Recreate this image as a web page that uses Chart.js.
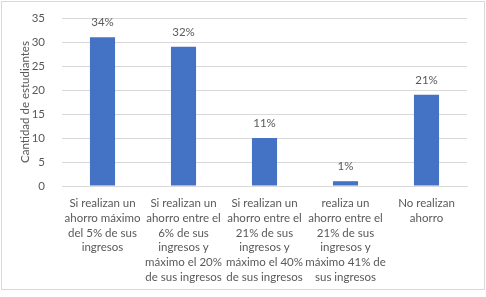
<!DOCTYPE html>
<html>
<head>
<meta charset="utf-8">
<script src="https://cdn.jsdelivr.net/npm/chart.js@4.4.0/dist/chart.umd.min.js"></script>
<style>
  html, body { margin: 0; padding: 0; background: #fff; }
  #box {
    position: absolute; left: 1px; top: 1px;
    width: 482px; height: 287px;
    border: 1px solid #d9d9d9;
  }
</style>
</head>
<body>
<div id="box"><canvas id="myChart"></canvas></div>
<script>
const categories = [
  ["Si realizan un", "ahorro máximo", "del 5% de sus", "ingresos"],
  ["Si realizan un", "ahorro entre el", "6% de sus", "ingresos y", "máximo el 20%", "de sus ingresos"],
  ["Si realizan un", "ahorro entre el", "21% de sus", "ingresos y", "máximo el 40%", "de sus ingresos"],
  ["realiza un", "ahorro entre el", "21% de sus", "ingresos y", "máximo 41% de", "sus ingresos"],
  ["No realizan", "ahorro"],
];
const students = [31, 29, 10, 1, 19];
const percentLabels = ["34%", "32%", "11%", "1%", "21%"];

const textColor = "#595959";
const font = { family: "Lato, 'Open Sans', sans-serif", size: 11.5, lineHeight: 1.28 };

const barLabels = {
  id: "barLabels",
  afterDatasetsDraw(chart) {
    const ctx = chart.ctx;
    const meta = chart.getDatasetMeta(0);
    ctx.save();
    ctx.font = font.size + "px " + font.family;
    ctx.fillStyle = textColor;
    ctx.textAlign = "center";
    ctx.textBaseline = "bottom";
    meta.data.forEach((bar, i) => {
      ctx.fillText(percentLabels[i], bar.x, bar.y - 9);
    });
    ctx.restore();
  },
};

const config = {
  type: "bar",
  data: {
    labels: categories,
    datasets: [
      {
        data: students,
        backgroundColor: "#4472c4",
        barPercentage: 1,
        categoryPercentage: 0.31,
      },
    ],
  },
  options: {
    responsive: true,
    maintainAspectRatio: false,
    animation: false,
    layout: { padding: { top: 16, right: 17, left: 0, bottom: 0 } },
    plugins: {
      legend: { display: false },
      tooltip: { enabled: false },
    },
    scales: {
      x: {
        ticks: {
          color: textColor,
          font: font,
          maxRotation: 0,
          autoSkip: false,
          padding: 10,
        },
        grid: { display: false, tickLength: 0 },
        border: { color: "#d9d9d9" },
        afterFit(scale) {
          scale.height = 103;
          scale.paddingLeft = 0;
          scale.paddingRight = 0;
        },
      },
      y: {
        min: 0,
        max: 35,
        ticks: { stepSize: 5, color: textColor, font: font, padding: 17 },
        grid: { color: "#d9d9d9", drawTicks: false },
        border: { display: false },
        title: {
          display: true,
          text: "Cantidad de estudiantes",
          color: textColor,
          font: font,
          padding: { top: 16, bottom: 0 },
        },
        afterFit(scale) {
          scale.width = 60;
          scale.paddingTop = 0;
          scale.paddingBottom = 0;
        },
      },
    },
  },
  plugins: [barLabels],
};

document.addEventListener("DOMContentLoaded", () => {
  const ctx = document.getElementById("myChart").getContext("2d");
  new Chart(ctx, config);
});
</script>
</body>
</html>
